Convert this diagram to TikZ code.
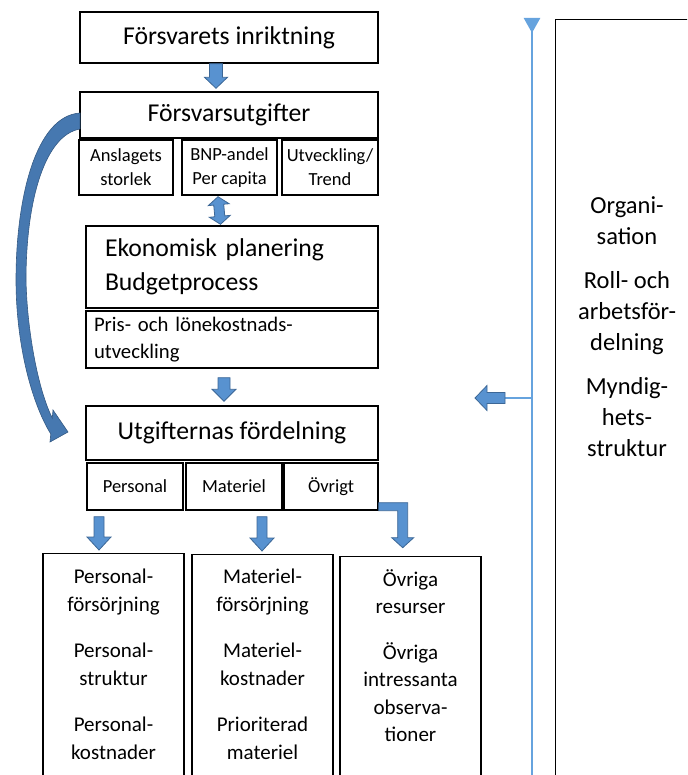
\documentclass[tikz,border=0pt]{standalone}
\usepackage{fontspec}
\setmainfont{Carlito}
\usetikzlibrary{calc,arrows.meta}

\definecolor{arrowblue}{RGB}{88,146,208}
\definecolor{arrowedge}{RGB}{60,103,150}
\definecolor{lineblue}{RGB}{102,163,222}
\definecolor{curveblue}{RGB}{70,120,176}

\tikzset{
  box/.style={draw, line width=1.4pt, inner sep=0pt, align=center},
  bigtext/.style={font=\fontsize{25.7}{34}\selectfont},
  midtext/.style={font=\fontsize{20.7}{27}\selectfont},
  smalltext/.style={font=\fontsize{18.5}{24}\selectfont},
  coltext/.style={inner sep=0pt, align=center, font=\fontsize{21}{27.5}\selectfont},
  orgtext/.style={inner sep=0pt, align=center, font=\fontsize{24.5}{31}\selectfont},
  arrowbody/.style={fill=arrowblue, draw=arrowedge, line width=0.8pt, line join=miter},
  curvearrow/.style={fill=curveblue, draw=curveblue!75!black, line width=0.6pt},
  orgline/.style={draw=lineblue, line width=2.5pt}
}

% block arrow: start, tip, half shaft, half head, head length
\newcommand{\blockarrow}[5]{%
  \coordinate (ba-s) at #1;
  \coordinate (ba-t) at #2;
  \coordinate (ba-h) at ($(ba-t)!#5!(ba-s)$);
  \filldraw[arrowbody] ($(ba-s)!#3!90:(ba-t)$) -- ($(ba-h)!#3!90:(ba-t)$)
    -- ($(ba-h)!#4!90:(ba-t)$) -- (ba-t) -- ($(ba-h)!#4!-90:(ba-t)$)
    -- ($(ba-h)!#3!-90:(ba-t)$) -- ($(ba-s)!#3!-90:(ba-t)$) -- cycle;
}
% block arrow with a head at both ends
\newcommand{\dblarrow}[5]{%
  \coordinate (da-s) at #1;
  \coordinate (da-t) at #2;
  \coordinate (da-h1) at ($(da-s)!#5!(da-t)$);
  \coordinate (da-h2) at ($(da-t)!#5!(da-s)$);
  \filldraw[arrowbody] (da-s) -- ($(da-h1)!#4!90:(da-t)$) -- ($(da-h1)!#3!90:(da-t)$)
    -- ($(da-h2)!#3!90:(da-t)$) -- ($(da-h2)!#4!90:(da-t)$) -- (da-t)
    -- ($(da-h2)!#4!-90:(da-t)$) -- ($(da-h2)!#3!-90:(da-t)$)
    -- ($(da-h1)!#3!-90:(da-t)$) -- ($(da-h1)!#4!-90:(da-t)$) -- cycle;
}

\begin{document}
\begin{tikzpicture}[x=1pt, y=-1pt]
    \useasboundingbox (0,0) rectangle (687,775);
    \clip (0,0) rectangle (687,775);

    %Top boxes
    \node[box, bigtext, minimum width=298pt, minimum height=51pt] (inrikt) at (229,37.5) {Försvarets inriktning};
    \node[box, bigtext, minimum width=298pt, minimum height=46pt] (utgift) at (229,115) {Försvarsutgifter};

    %Parts of the defence budget
    \node[box, smalltext, minimum width=94pt, minimum height=55pt] (anslag) at (126,167.5) {Anslagets\\storlek};
    \node[box, smalltext, minimum width=95pt, minimum height=55pt] (bnp) at (229.5,167.5) {BNP-andel\\Per capita};
    \node[box, smalltext, minimum width=96pt, minimum height=55pt] (utveck) at (330,167.5) {Utveckling/\\Trend};

    %Planning
    \node[box, bigtext, align=left, text width=254pt, inner xsep=19pt, minimum height=82pt] (ekon) at (232,267) {Ekonomisk planering\\Budgetprocess};
    \node[box, midtext, align=left, text width=276pt, inner xsep=8pt, minimum height=57pt] (pris) at (232,339.5) {Pris- och lönekostnads-\\utveckling};

    %Distribution
    \node[box, bigtext, minimum width=292pt, minimum height=54pt] (ford) at (232,433) {Utgifternas fördelning};
    \node[box, smalltext, minimum width=96pt, minimum height=47pt] (pers) at (135,486.5) {Personal};
    \node[box, smalltext, minimum width=96pt, minimum height=47pt] (mat) at (234,486.5) {Materiel};
    \node[box, smalltext, minimum width=94pt, minimum height=47pt] (ovr) at (331,486.5) {Övrigt};

    %Bottom columns
    \node[box, minimum width=141pt, minimum height=240pt, anchor=north] (persbox) at (113.5,553) {};
    \node[box, minimum width=141pt, minimum height=240pt, anchor=north] (matbox) at (262.5,554) {};
    \node[box, minimum width=141pt, minimum height=240pt, anchor=north] (ovrbox) at (410.5,556) {};
    \node[coltext, anchor=north] (perstext) at (persbox.north |- 0,569) {Personal-\\försörjning\\[19pt]Personal-\\struktur\\[19pt]Personal-\\kostnader};
    \node[coltext, anchor=north] (mattext) at (matbox.north |- 0,569) {Materiel-\\försörjning\\[19pt]Materiel-\\kostnader\\[19pt]Prioriterad\\materiel};
    \node[coltext, anchor=north] (ovrtext) at (ovrbox.north |- 0,569) {Övriga\\resurser\\[18pt]Övriga\\intressanta\\observa-\\tioner};

    %Organisation
    \node[box, minimum width=150pt, minimum height=780pt, anchor=north west] (orgbox) at (555,19) {};
    \node[orgtext, anchor=north] (orgtext) at (627,196) {Organi-\\sation\\[13pt]Roll- och\\arbetsför-\\delning\\[13pt]Myndig-\\hets-\\struktur};

    %Arrows between the boxes
    \blockarrow{([xshift=-13pt]inrikt.south)}{([xshift=-13pt, yshift=3pt]utgift.north)}{6.5pt}{11.5pt}{11pt}
    \dblarrow{([xshift=-11.5pt, yshift=-1pt]bnp.south)}{([xshift=-11.5pt, yshift=1pt]ekon.north)}{5pt}{10.5pt}{8pt}
    \blockarrow{([xshift=-8pt, yshift=-9pt]pris.south)}{([xshift=-8pt, yshift=4pt]ford.north)}{6pt}{12pt}{12pt}
    \blockarrow{([xshift=-36pt, yshift=-6pt]pers.south)}{([xshift=-14.5pt, yshift=3pt]persbox.north)}{5pt}{12pt}{13pt}
    \blockarrow{([xshift=28pt, yshift=-6pt]mat.south)}{([xshift=-0.5pt, yshift=3pt]matbox.north)}{5pt}{12pt}{13pt}

    %Elbow arrow from Övrigt
    \filldraw[arrowbody] (ovr.south east) ++(0,-8) -- ++(29,0) -- ++(0,35) -- ++(6,0) -- ++(-11,10)
        -- ++(-11,-10) -- ++(6,0) -- ++(0,-27) -- ++(-19,0) -- cycle;

    %Curved arrow
    \filldraw[curvearrow] (80,113) .. controls (35,116) and (16,200) .. (16,280)
        .. controls (16,340) and (30,400) .. (50.8,434) -- (50,442) -- (68,432) -- (53,410) -- (52.3,418)
        .. controls (38,390) and (27,330) .. (26,280) .. controls (26,200) and (45,135) .. (80,129) -- cycle;

    %Organisation line
    \coordinate (linetop) at (532,18);
    \coordinate (linebot) at (532,790);
    \coordinate (junction) at (532,398);
    \draw[orgline, {Triangle[reversed, width=16pt, length=15pt]}-] (linetop) -- (linebot);
    \draw[draw=lineblue, line width=2pt] (junction) -- ([xshift=-27pt]junction);
    \blockarrow{([xshift=-27pt]junction)}{([xshift=-57pt]junction)}{5.5pt}{12.5pt}{12pt}

\end{tikzpicture}
\end{document}
